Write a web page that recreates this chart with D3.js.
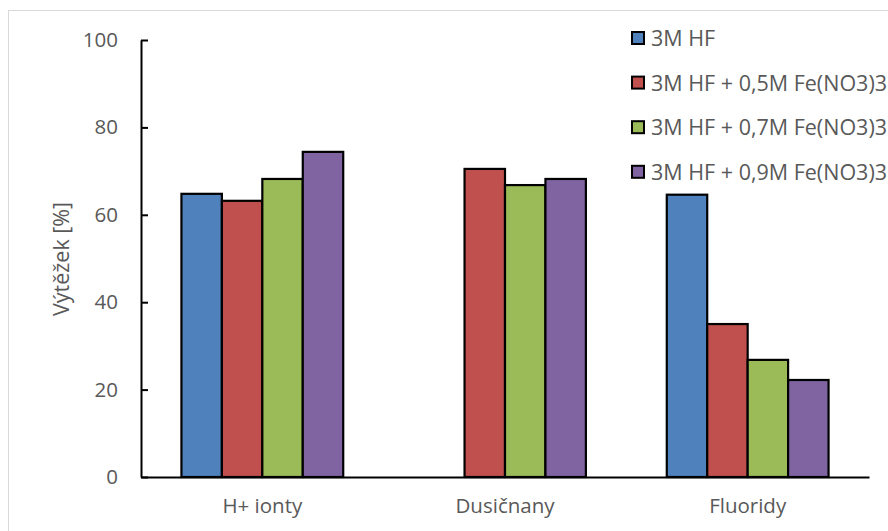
<!DOCTYPE html>
<html>
<head>
<meta charset="utf-8">
<script src="https://cdn.jsdelivr.net/npm/d3@7"></script>
<style>
  html, body { margin: 0; padding: 0; background: #fff; }
  svg { display: block; }
  text { font-family: "Open Sans", "Noto Sans", sans-serif; fill: #595959; }
</style>
</head>
<body>
<svg id="chart" width="888" height="531"></svg>
<script>
// Categories along the x axis
const categories = ["H+ ionty", "Dusičnany", "Fluoridy"];
// Series names (legend)
const seriesNames = [
  "3M HF",
  "3M HF + 0,5M Fe(NO3)3",
  "3M HF + 0,7M Fe(NO3)3",
  "3M HF + 0,9M Fe(NO3)3"
];
// Yield [%] per series, one value per category (null = not measured)
const hf      = [64.8, null, 64.6];
const fe05    = [63.2, 70.5, 35.0];
const fe07    = [68.2, 66.8, 26.8];
const fe09    = [74.4, 68.2, 22.2];
const seriesValues = [hf, fe05, fe07, fe09];
const seriesColors = ["#4f81bd", "#c0504d", "#9bbb59", "#8064a2"];
const yTicks = [0, 20, 40, 60, 80, 100];

const svg = d3.select("#chart");

// chart area frame
svg.append("rect")
  .attr("x", 8.5).attr("y", 10.5)
  .attr("width", 900).attr("height", 540)
  .attr("fill", "#fff")
  .attr("stroke", "#d9d9d9").attr("stroke-width", 1);

const plot = { left: 141, right: 869, top: 40, bottom: 477 };

const x0 = d3.scaleBand().domain(categories).range([plot.left, plot.right]).padding(0);
const x1 = d3.scaleBand().domain(d3.range(seriesNames.length))
  .range([0, x0.bandwidth()]).paddingInner(0).paddingOuter(1.0);
const y = d3.scaleLinear().domain([0, 100]).range([plot.bottom, plot.top]);

// bars
const rows = [];
seriesValues.forEach((vals, s) => {
  vals.forEach((v, c) => {
    if (v != null) rows.push({ s, c: categories[c], v });
  });
});
svg.append("g").selectAll("rect").data(rows).join("rect")
  .attr("x", d => x0(d.c) + x1(d.s))
  .attr("y", d => y(d.v))
  .attr("width", x1.bandwidth())
  .attr("height", d => y(0) - y(d.v))
  .attr("fill", d => seriesColors[d.s])
  .attr("stroke", "#000")
  .attr("stroke-width", 2.2);

// y axis
const yAxis = svg.append("g")
  .attr("transform", `translate(${plot.left},0)`)
  .call(d3.axisLeft(y).tickValues(yTicks).tickSizeInner(-7).tickSizeOuter(0).tickPadding(23));
yAxis.select(".domain").attr("stroke", "#000").attr("stroke-width", 2);
yAxis.selectAll(".tick line").attr("stroke", "#000").attr("stroke-width", 2);
yAxis.selectAll(".tick text")
  .attr("font-size", 20.5).attr("fill", "#595959")
  .style("font-family", '"Open Sans", "Noto Sans", sans-serif');

// x axis
const xAxis = svg.append("g")
  .attr("transform", `translate(0,${plot.bottom})`)
  .call(d3.axisBottom(x0).tickSize(0).tickPadding(21));
xAxis.select(".domain").attr("stroke", "#000").attr("stroke-width", 2);
xAxis.selectAll(".tick text")
  .attr("font-size", 20.5).attr("fill", "#595959")
  .style("font-family", '"Open Sans", "Noto Sans", sans-serif');

// y axis title
svg.append("text")
  .attr("transform", "translate(69,259) rotate(-90)")
  .attr("text-anchor", "middle")
  .attr("font-size", 21.5)
  .text("Výtěžek [%]");

// legend
const legend = svg.append("g").selectAll("g").data(seriesNames).join("g")
  .attr("transform", (d, i) => `translate(632,${38.5 + i * 44.6})`);
legend.append("rect")
  .attr("x", 0).attr("y", -6.5).attr("width", 12).attr("height", 12)
  .attr("fill", (d, i) => seriesColors[i])
  .attr("stroke", "#000").attr("stroke-width", 2);
legend.append("text")
  .attr("x", 19).attr("y", 0).attr("dy", "0.35em")
  .attr("font-size", 21.5)
  .text(d => d);
</script>
</body>
</html>
